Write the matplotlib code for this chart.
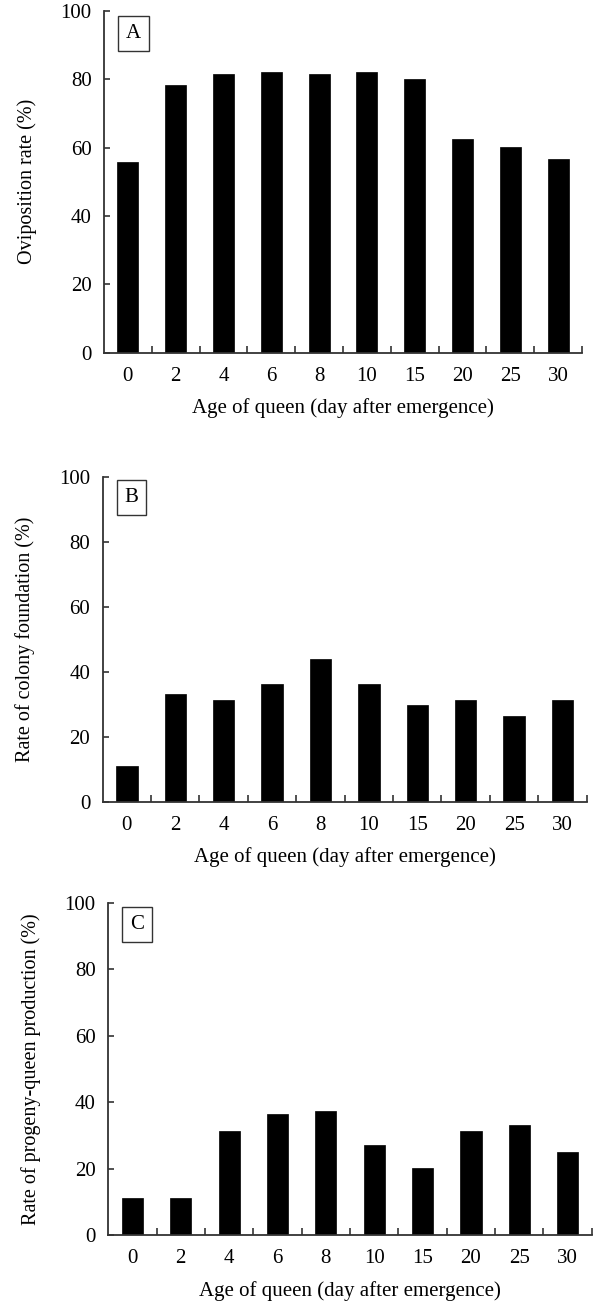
import numpy as np
import matplotlib
matplotlib.use("Agg")
import matplotlib.pyplot as plt

plt.rcParams['font.family'] = ['Liberation Serif', 'DejaVu Serif']

# Age of queen (day after emergence)
ages = ['0', '2', '4', '6', '8', '10', '15', '20', '25', '30']

# values (%)
oviposition = [55.7, 78.2, 81.6, 82.1, 81.6, 82.1, 80.1, 62.6, 60.1, 56.6]
colony_foundation = [11.1, 33.3, 31.3, 36.2, 43.9, 36.2, 29.9, 31.3, 26.5, 31.3]
progeny_queen = [11.1, 11.1, 31.5, 36.5, 37.5, 27.3, 20.4, 31.5, 33.3, 25.0]

panels = ['A', 'B', 'C']
ylabels = ['Oviposition rate (%)',
           'Rate of colony foundation (%)',
           'Rate of progeny-queen production (%)']
series = [oviposition, colony_foundation, progeny_queen]

# axes boxes in figure fractions [left, bottom, width, height]
boxes = [[0.1748, 0.7289, 0.8032, 0.2627],
         [0.1726, 0.3836, 0.8134, 0.2501],
         [0.1820, 0.0505, 0.8125, 0.2554]]

fig = plt.figure(figsize=(5.95, 13.01), dpi=100)
axis_color = '#333333'
fs = 15

for label, ylab, vals, box in zip(panels, ylabels, series, boxes):
    ax = fig.add_axes(box)
    x = np.arange(len(ages))
    ax.bar(x, vals, width=0.44, color='black', edgecolor='black', linewidth=0.5)

    ax.set_xlim(-0.5, len(ages) - 0.5)
    ax.set_ylim(0, 100)

    ax.spines['top'].set_visible(False)
    ax.spines['right'].set_visible(False)
    for s in ['left', 'bottom']:
        ax.spines[s].set_color(axis_color)
        ax.spines[s].set_linewidth(1.3)

    ax.set_yticks(np.arange(0, 101, 20))
    ax.tick_params(axis='y', direction='in', length=4, width=1.2, color=axis_color,
                   labelsize=fs, pad=9)

    # labels at bar centres, tick marks at the category boundaries
    ax.set_xticks(x)
    ax.set_xticklabels(ages)
    ax.tick_params(axis='x', which='major', length=0, labelsize=fs, pad=10)
    ax.set_xticks(np.arange(0.5, len(ages), 1.0), minor=True)
    ax.tick_params(axis='x', which='minor', direction='in', length=5, width=1.2,
                   color=axis_color)

    ax.set_xlabel('Age of queen (day after emergence)', fontsize=fs, labelpad=9)
    ax.set_ylabel(ylab, fontsize=14.5, labelpad=17)

    ax.text(0.045, 0.935, label, transform=ax.transAxes, fontsize=fs,
            ha='left', va='center',
            bbox=dict(boxstyle='square,pad=0.38', facecolor='white',
                      edgecolor=axis_color, linewidth=1.0))

fig.savefig('out.png', dpi=100)
